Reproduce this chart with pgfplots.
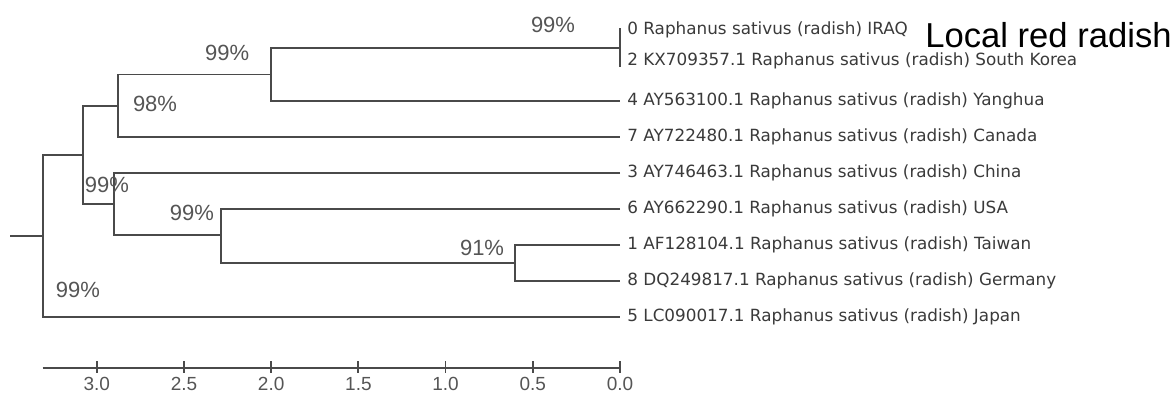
\documentclass[border=0pt]{standalone}
\usepackage{fontspec}
\setmainfont{Liberation Sans}
\newfontfamily\leaffont{DejaVu Sans}
\usepackage{pgfplots}
\pgfplotsset{compat=1.18}
\definecolor{treecol}{HTML}{4A4A4A}
\definecolor{labcol}{HTML}{3A3A3A}
\definecolor{pctcol}{HTML}{555555}
\tikzset{
  leaf/.style={anchor=west, text=labcol, font=\leaffont\fontsize{8.4}{10}\selectfont, inner sep=0pt, xshift=3.5pt},
  pct/.style={text=pctcol, font=\fontsize{11}{13}\selectfont, inner sep=0pt},
  tl/.style={text=pctcol, font=\fontsize{9.5}{11}\selectfont, inner sep=0pt},
}
\pgfplotsset{br/.style={color=treecol, line width=0.9pt, mark=none, solid}}
\begin{document}
\begin{tikzpicture}
\begin{axis}[
  x=87.2pt, y=0.5pt, x dir=reverse, y dir=reverse,
  xmin=-3.165, xmax=3.555, ymin=0, ymax=392,
  hide axis, clip=false,
]
% invisible frame
\addplot[draw=none, mark=none] coordinates {(3.555,0) (-3.165,392)};
% tree
\addplot[br] coordinates {(0,28) (0,67)};
\addplot[br] coordinates {(0,48) (2.0,48) (2.0,101) (0,101)};
\addplot[br] coordinates {(2.0,74.5) (2.88,74.5) (2.88,137) (0,137)};
\addplot[br] coordinates {(2.88,106) (3.08,106) (3.08,204) (2.90,204)};
\addplot[br] coordinates {(0,173) (2.90,173) (2.90,235) (2.29,235)};
\addplot[br] coordinates {(0,209) (2.29,209) (2.29,263) (0.60,263)};
\addplot[br] coordinates {(0,245) (0.60,245) (0.60,281) (0,281)};
\addplot[br] coordinates {(3.08,155) (3.31,155) (3.31,317) (0,317)};
\addplot[br] coordinates {(3.31,236) (3.50,236)};
% scale bar
\addplot[br] coordinates {(3.31,368) (0,368)};
\addplot[br] coordinates {(3.0,361) (3.0,373)};
\addplot[br] coordinates {(2.5,361) (2.5,373)};
\addplot[br] coordinates {(2.0,361) (2.0,373)};
\addplot[br] coordinates {(1.5,361) (1.5,373)};
\addplot[br] coordinates {(1.0,361) (1.0,373)};
\addplot[br] coordinates {(0.5,361) (0.5,373)};
\addplot[br] coordinates {(0.0,361) (0.0,373)};
\node[tl] at (axis cs:3.0,384) {3.0};
\node[tl] at (axis cs:2.5,384) {2.5};
\node[tl] at (axis cs:2.0,384) {2.0};
\node[tl] at (axis cs:1.5,384) {1.5};
\node[tl] at (axis cs:1.0,384) {1.0};
\node[tl] at (axis cs:0.5,384) {0.5};
\node[tl] at (axis cs:0.0,384) {0.0};
% leaf labels
\node[leaf] at (axis cs:0,30) {0 Raphanus sativus (radish) IRAQ};
\node[leaf] at (axis cs:0,61) {2 KX709357.1 Raphanus sativus (radish) South Korea};
\node[leaf] at (axis cs:0,101) {4 AY563100.1 Raphanus sativus (radish) Yanghua};
\node[leaf] at (axis cs:0,137) {7 AY722480.1 Raphanus sativus (radish) Canada};
\node[leaf] at (axis cs:0,173) {3 AY746463.1 Raphanus sativus (radish) China};
\node[leaf] at (axis cs:0,209) {6 AY662290.1 Raphanus sativus (radish) USA};
\node[leaf] at (axis cs:0,245) {1 AF128104.1 Raphanus sativus (radish) Taiwan};
\node[leaf] at (axis cs:0,281) {8 DQ249817.1 Raphanus sativus (radish) Germany};
\node[leaf] at (axis cs:0,317) {5 LC090017.1 Raphanus sativus (radish) Japan};
\node[anchor=base west, inner sep=0pt, font=\fontsize{17.3}{20}\selectfont, text=black] at (axis cs:-1.749,47) {Local red radish};
% bootstrap values
\node[pct] at (axis cs:0.384,25) {99\%};
\node[pct] at (axis cs:2.253,53) {99\%};
\node[pct] at (axis cs:2.666,103.5) {98\%};
\node[pct] at (axis cs:2.942,185) {99\%};
\node[pct] at (axis cs:2.454,213) {99\%};
\node[pct] at (axis cs:0.791,248) {91\%};
\node[pct] at (axis cs:3.108,290) {99\%};
\end{axis}
\end{tikzpicture}
\end{document}
